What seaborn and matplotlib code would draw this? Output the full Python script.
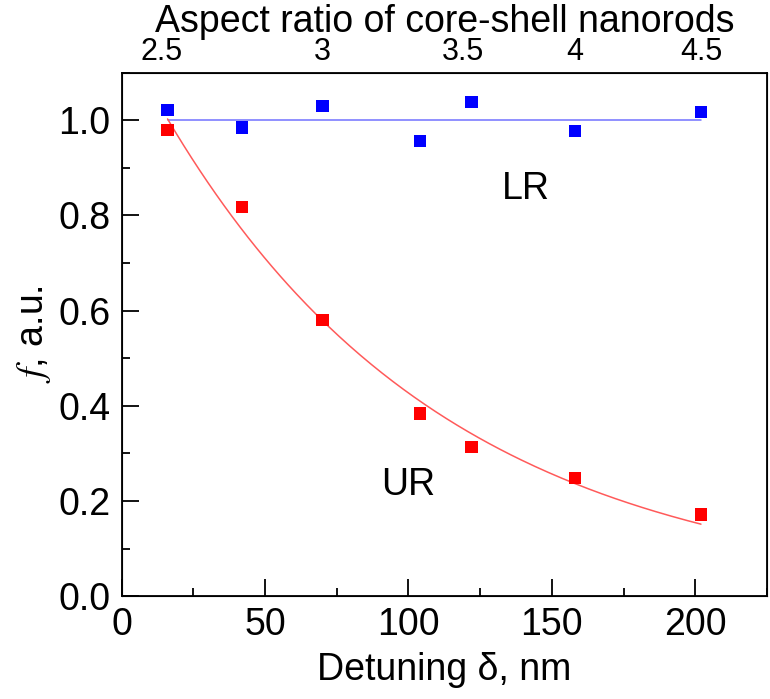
import seaborn as sns
import matplotlib.pyplot as plt
import numpy as np
import pandas as pd
from matplotlib.ticker import MultipleLocator

sns.set_style("ticks", {"text.color": "black", "axes.labelcolor": "black",
                        "xtick.color": "black", "ytick.color": "black",
                        "axes.edgecolor": "black"})
plt.rcParams["font.family"] = ["Liberation Sans", "DejaVu Sans"]
plt.rcParams["mathtext.fontset"] = "stix"

# data
detuning = [16, 42, 70, 104, 122, 158, 202]
lr_vals = [1.022, 0.985, 1.030, 0.957, 1.038, 0.977, 1.018]
ur_vals = [0.980, 0.818, 0.580, 0.384, 0.313, 0.249, 0.172]
lr_level = 1.0

top_pos = [14, 70, 119, 158, 202]
top_labels = ["2.5", "3", "3.5", "4", "4.5"]

# exponential fit y = A*exp(-x/t) to the UR points
xd = np.array(detuning, dtype=float)
yd = np.array(ur_vals)
best = None
for t in np.linspace(40, 200, 1601):
    e = np.exp(-xd / t)
    A = (yd * e).sum() / (e * e).sum()
    err = ((yd - A * e) ** 2).sum()
    if best is None or err < best[0]:
        best = (err, A, t)
_, fitA, fitT = best
xf = np.linspace(detuning[0], detuning[-1], 200)
fit_ur = pd.DataFrame({"x": xf, "y": fitA * np.exp(-xf / fitT)})
fit_lr = pd.DataFrame({"x": [detuning[0], detuning[-1]], "y": [lr_level, lr_level]})

pts = pd.DataFrame({"x": detuning * 2,
                    "y": lr_vals + ur_vals,
                    "set": ["LR"] * 7 + ["UR"] * 7})

fs = 27
fig, ax = plt.subplots(figsize=(7.7, 6.99), dpi=100)
fig.subplots_adjust(left=0.158, right=0.996, bottom=0.147, top=0.896)

sns.lineplot(data=fit_lr, x="x", y="y", color="#7272ff", lw=1.1, ax=ax)
sns.lineplot(data=fit_ur, x="x", y="y", color="#ff5a5a", lw=1.1, ax=ax)
sns.scatterplot(data=pts, x="x", y="y", hue="set",
                palette={"LR": "#0000ff", "UR": "#ff0000"},
                marker="s", s=80, linewidth=0, legend=False, ax=ax, zorder=3)

ax.set_xlim(0, 225)
ax.set_ylim(0, 1.1)
ax.set_xticks([0, 50, 100, 150, 200])
ax.xaxis.set_minor_locator(MultipleLocator(25))
ax.set_yticks(np.arange(0, 1.01, 0.2))
ax.yaxis.set_minor_locator(MultipleLocator(0.1))
ax.set_yticklabels([f"{v:.1f}" for v in np.arange(0, 1.01, 0.2)])
ax.tick_params(which="major", direction="in", length=12, width=1.3, labelsize=fs, pad=8)
ax.tick_params(which="minor", direction="in", length=6, width=1.3)
for sp in ax.spines.values():
    sp.set_linewidth(1.3)
    sp.set_color("black")

ax.set_xlabel("Detuning δ, nm", fontsize=fs, labelpad=6)
ax.set_ylabel("$f$, a.u.", fontsize=fs, labelpad=4)

ax.text(141, 0.855, "LR", fontsize=fs, ha="center", va="center")
ax.text(100, 0.233, "UR", fontsize=fs, ha="center", va="center")

top = ax.twiny()
top.set_xlim(ax.get_xlim())
top.set_xticks(top_pos)
top.set_xticklabels(top_labels)
top.tick_params(axis="x", length=0, labelsize=22, pad=4)
top.set_xlabel("Aspect ratio of core-shell nanorods", fontsize=fs, labelpad=4)

fig.savefig("out.png", dpi=100)
